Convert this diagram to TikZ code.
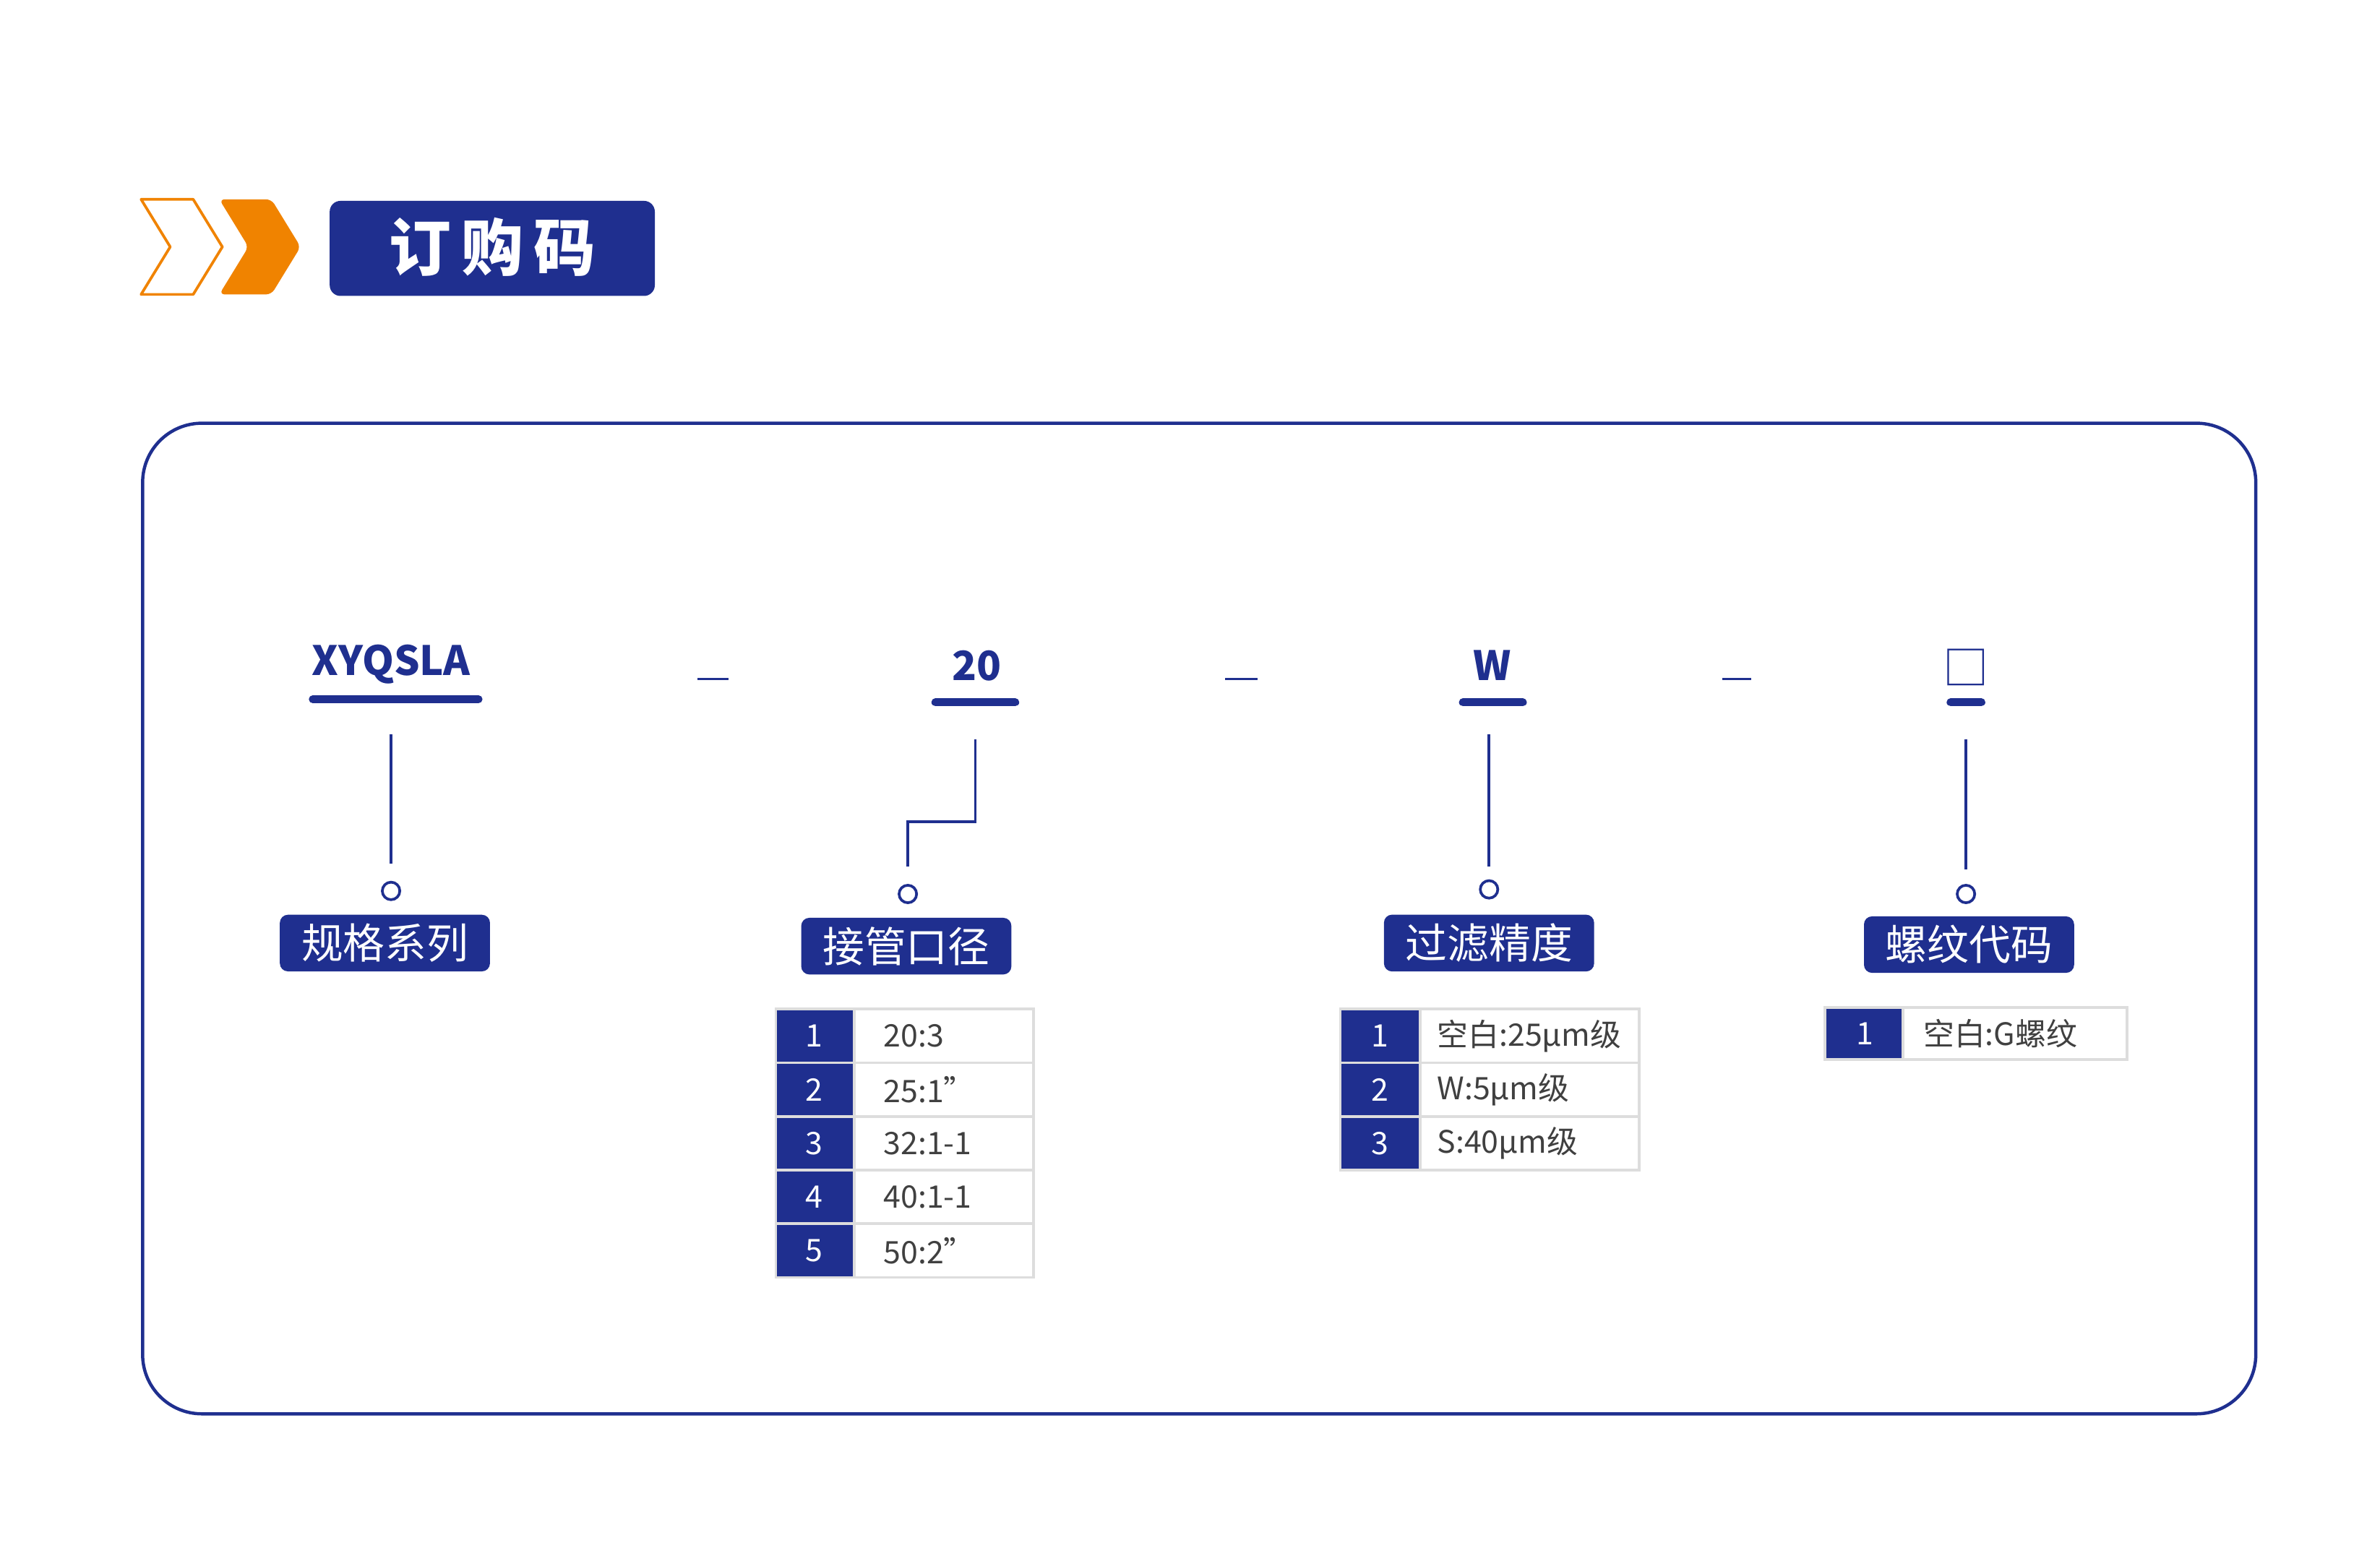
\documentclass[tikz,border=0pt]{standalone}
\usepackage{fontspec}
\setmainfont{Noto Sans CJK SC}
\usetikzlibrary{positioning}
\definecolor{navy}{HTML}{1F2F8F}
\definecolor{amber}{HTML}{F08300}
\definecolor{cellgray}{HTML}{DDDDDD}

\begin{document}
\begin{tikzpicture}[x=0.02cm,y=-0.02cm]
    \tikzset
    {
        codetext/.style = {text=navy, font=\bfseries\fontsize{15}{15}\selectfont},
        codebar/.style = {navy, line width=3pt, line cap=round},
        dashbar/.style = {navy, line width=0.8pt},
        lead/.style = {navy, line width=1pt},
        ring/.style = {draw=navy, line width=1pt, circle, minimum size=6.5pt, inner sep=0pt},
        tag/.style = {fill=navy, rounded corners=3pt, text=white,
                      minimum height=20.5pt, inner xsep=8pt,
                      font=\fontsize{15.5}{15.5}\selectfont},
        idxcell/.style = {fill=navy, draw=cellgray, line width=1pt},
        valcell/.style = {fill=white, draw=cellgray, line width=1pt},
        celltext/.style = {text=black!75, font=\fontsize{11.5}{11.5}\selectfont}
    };
    \useasboundingbox (0,0) rectangle (1552,1006);

    % Header
    \draw[amber, line width=1pt, line join=round]
        (92,130) -- (126,130) -- (145,161) -- (126,192) -- (92,192) -- (111,161) -- cycle;
    \fill[amber, rounded corners=2pt]
        (143,130) -- (177,130) -- (196,161) -- (177,192) -- (143,192) -- (162,161) -- cycle;
    \fill[navy, rounded corners=4pt] (215,131) rectangle (427,193);
    \node[text=white, font=\bfseries\fontsize{23}{23}\selectfont] (title) at (321,161) {订\,购\,码};

    % Frame
    \draw[navy, line width=1.2pt, rounded corners=22pt] (93,276) rectangle (1471,922);

    % Codes
    \node[codetext] (series) at (255,433) {XYQSLA};
    \node[codetext] (size) at (637,434) {20};
    \node[codetext] (grade) at (973,434) {W};
    \node[text=navy, font=\fontsize{17}{17}\selectfont] (thread) at (1282,435) {□};
    \draw[codebar] (204,456) -- (312,456);
    \draw[codebar] (610,458) -- (662,458);
    \draw[codebar] (954,458) -- (993,458);
    \draw[codebar] (1272,458) -- (1292,458);
    \draw[dashbar] (455,443) -- (475,443);
    \draw[dashbar] (799,443) -- (820,443);
    \draw[dashbar] (1123,443) -- (1142,443);

    % Leads
    \node[ring] (r1) at (255,581) {};
    \node[ring] (r2) at (592,583) {};
    \node[ring] (r3) at (971,580) {};
    \node[ring] (r4) at (1282,583) {};
    \coordinate (t1) at (255,479);
    \coordinate (t2) at (636,482);
    \coordinate (t3) at (971,479);
    \coordinate (t4) at (1282,482);
    \draw[lead] (t1) -- (255,563);
    \draw[lead] (t2) -- (636,536) -- (592,536) -- (592,565);
    \draw[lead] (t3) -- (971,565);
    \draw[lead] (t4) -- (1282,567);

    % Tags
    \node[tag] (l1) at (251,615) {规格系列};
    \node[tag] (l2) at (591,617) {接管口径};
    \node[tag] (l3) at (971,615) {过滤精度};
    \node[tag] (l4) at (1284,616) {螺纹代码};

    % Tables
    \foreach \i/\v in {1/20:3/4", 2/25:1", 3/32:1-1/4", 4/40:1-1/2", 5/50:2"}
    {
        \draw[valcell] (557,623+35*\i) rectangle (674,658+35*\i);
        \draw[idxcell] (506,623+35*\i) rectangle (557,658+35*\i);
        \node[text=white, font=\fontsize{11.5}{11.5}\selectfont] at (531,640.5+35*\i) {\i};
        \node[celltext, anchor=west] at (570,640.5+35*\i) {\v};
    }
    \foreach \i/\v in {1/空白:25μm级, 2/W:5μm级, 3/S:40μm级}
    {
        \draw[valcell] (926,623+35*\i) rectangle (1069,658+35*\i);
        \draw[idxcell] (874,623+35*\i) rectangle (926,658+35*\i);
        \node[text=white, font=\fontsize{11.5}{11.5}\selectfont] at (900,640.5+35*\i) {\i};
        \node[celltext, anchor=west] at (931,640.5+35*\i) {\v};
    }
    \draw[valcell] (1241,657) rectangle (1387,691);
    \draw[idxcell] (1190,657) rectangle (1241,691);
    \node[text=white, font=\fontsize{11.5}{11.5}\selectfont] at (1216,674) {1};
    \node[celltext, anchor=west] at (1248,674) {空白:G螺纹};
\end{tikzpicture}
\end{document}
